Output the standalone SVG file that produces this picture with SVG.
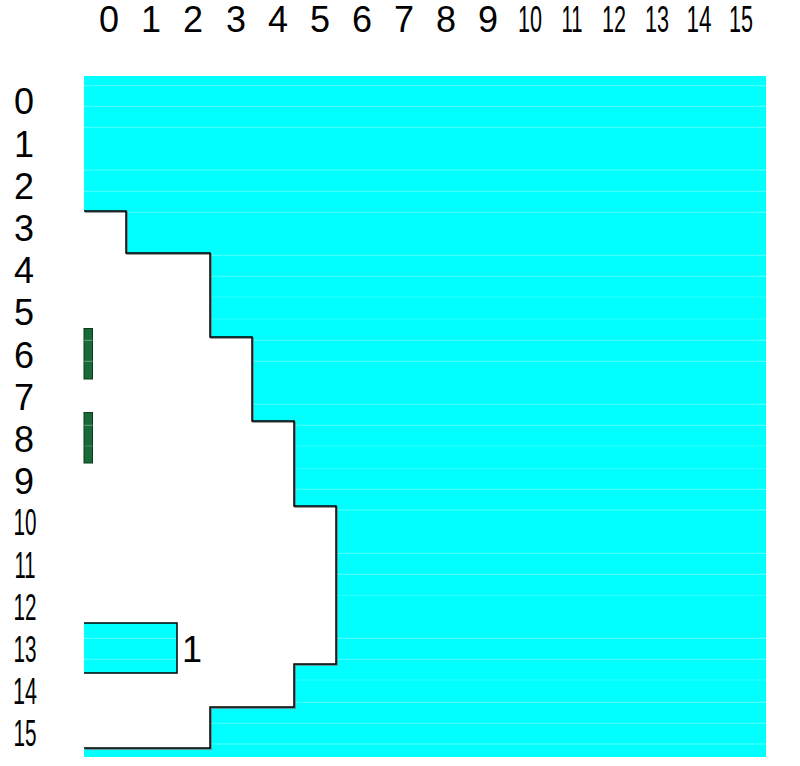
<svg xmlns="http://www.w3.org/2000/svg" width="800" height="766" viewBox="0 0 800 766">
  <style>
    .lbl { font-family: "Liberation Sans", Arial, sans-serif; font-size: 36px; fill: #000; text-anchor: middle; }
    .faint { stroke: #ffffff; stroke-opacity: 0.35; stroke-width: 1; }
    .fainter { stroke: #ffffff; stroke-opacity: 0.18; stroke-width: 1; }
    .outline { fill: none; stroke: #000; stroke-width: 1.5; }
    .shadow { fill: none; stroke: #777; stroke-width: 1.5; }
    .bar { fill: #186b37; stroke: #0b3a1c; stroke-width: 1; }
  </style>
  <rect width="800" height="766" fill="#fff"/>

  <g id="region">
    <path d="M84,76 H766 V757 H84 V748 H210 V707 H294 V664 H336 V506 H294 V421 H252 V337 H210 V253 H126 V211 H84 Z" fill="#00ffff"/>
    <rect x="84" y="623" width="93" height="50" fill="#00ffff"/>
  </g>

  <g id="bars">
    <rect class="bar" x="84" y="328.5" width="8.5" height="50.5"/>
    <rect class="bar" x="84" y="412.5" width="8.5" height="50.5"/>
  </g>

  <g id="gridlines">
    <path class="faint" d="M84,85.7H766M84,106.3H766M84,127.3H766M84,170H766M84,191.3H766M84,212.3H766M84,255.3H766M84,276.3H766M84,340.3H766M84,361.3H766M84,404.3H766M84,425.3H766M84,489.3H766M84,510H766M84,553.3H766M84,574.3H766M84,638.3H766M84,659.3H766M84,702.3H766M84,723.3H766M84,744H766"/>
    <path class="fainter" d="M84,297H766M84,319H766M84,446H766M84,468.7H766M84,595.3H766M84,680H766"/>
  </g>

  <g id="connectors">
    <path class="shadow" transform="translate(1,1)" d="M84,211 H126 V253 H210 V337 H252 V421 H294 V506 H336 V664 H294 V707 H210 V748 H84"/>
    <path class="outline" d="M84,211 H126 V253 H210 V337 H252 V421 H294 V506 H336 V664 H294 V707 H210 V748 H84"/>
    <path class="outline" d="M84,623 H177 V673 H84"/>
  </g>

  <g id="label-box">
    <text class="lbl" x="192" y="662">1</text>
  </g>

  <g id="col-labels">
    <text class="lbl" x="109" y="32">0</text>
    <text class="lbl" x="151" y="32">1</text>
    <text class="lbl" x="193" y="32">2</text>
    <text class="lbl" x="236" y="32">3</text>
    <text class="lbl" x="278" y="32">4</text>
    <text class="lbl" x="320" y="32">5</text>
    <text class="lbl" x="362" y="32">6</text>
    <text class="lbl" x="404" y="32">7</text>
    <text class="lbl" x="446" y="32">8</text>
    <text class="lbl" x="488" y="32">9</text>
    <text class="lbl" x="530" y="32" textLength="24" lengthAdjust="spacingAndGlyphs">10</text>
    <text class="lbl" x="572" y="32" textLength="21" lengthAdjust="spacingAndGlyphs">11</text>
    <text class="lbl" x="614" y="32" textLength="24" lengthAdjust="spacingAndGlyphs">12</text>
    <text class="lbl" x="657" y="32" textLength="24" lengthAdjust="spacingAndGlyphs">13</text>
    <text class="lbl" x="699" y="32" textLength="25" lengthAdjust="spacingAndGlyphs">14</text>
    <text class="lbl" x="741" y="32" textLength="24" lengthAdjust="spacingAndGlyphs">15</text>
  </g>

  <g id="row-labels">
    <text class="lbl" x="24" y="114">0</text>
    <text class="lbl" x="24" y="157">1</text>
    <text class="lbl" x="24" y="199">2</text>
    <text class="lbl" x="24" y="241">3</text>
    <text class="lbl" x="24" y="283">4</text>
    <text class="lbl" x="24" y="325">5</text>
    <text class="lbl" x="24" y="368">6</text>
    <text class="lbl" x="24" y="410">7</text>
    <text class="lbl" x="24" y="452">8</text>
    <text class="lbl" x="24" y="494">9</text>
    <text class="lbl" x="25" y="535" textLength="23" lengthAdjust="spacingAndGlyphs">10</text>
    <text class="lbl" x="25" y="578" textLength="21" lengthAdjust="spacingAndGlyphs">11</text>
    <text class="lbl" x="25" y="620" textLength="23" lengthAdjust="spacingAndGlyphs">12</text>
    <text class="lbl" x="25" y="662" textLength="23" lengthAdjust="spacingAndGlyphs">13</text>
    <text class="lbl" x="25" y="704" textLength="24" lengthAdjust="spacingAndGlyphs">14</text>
    <text class="lbl" x="25" y="746" textLength="23" lengthAdjust="spacingAndGlyphs">15</text>
  </g>
</svg>
